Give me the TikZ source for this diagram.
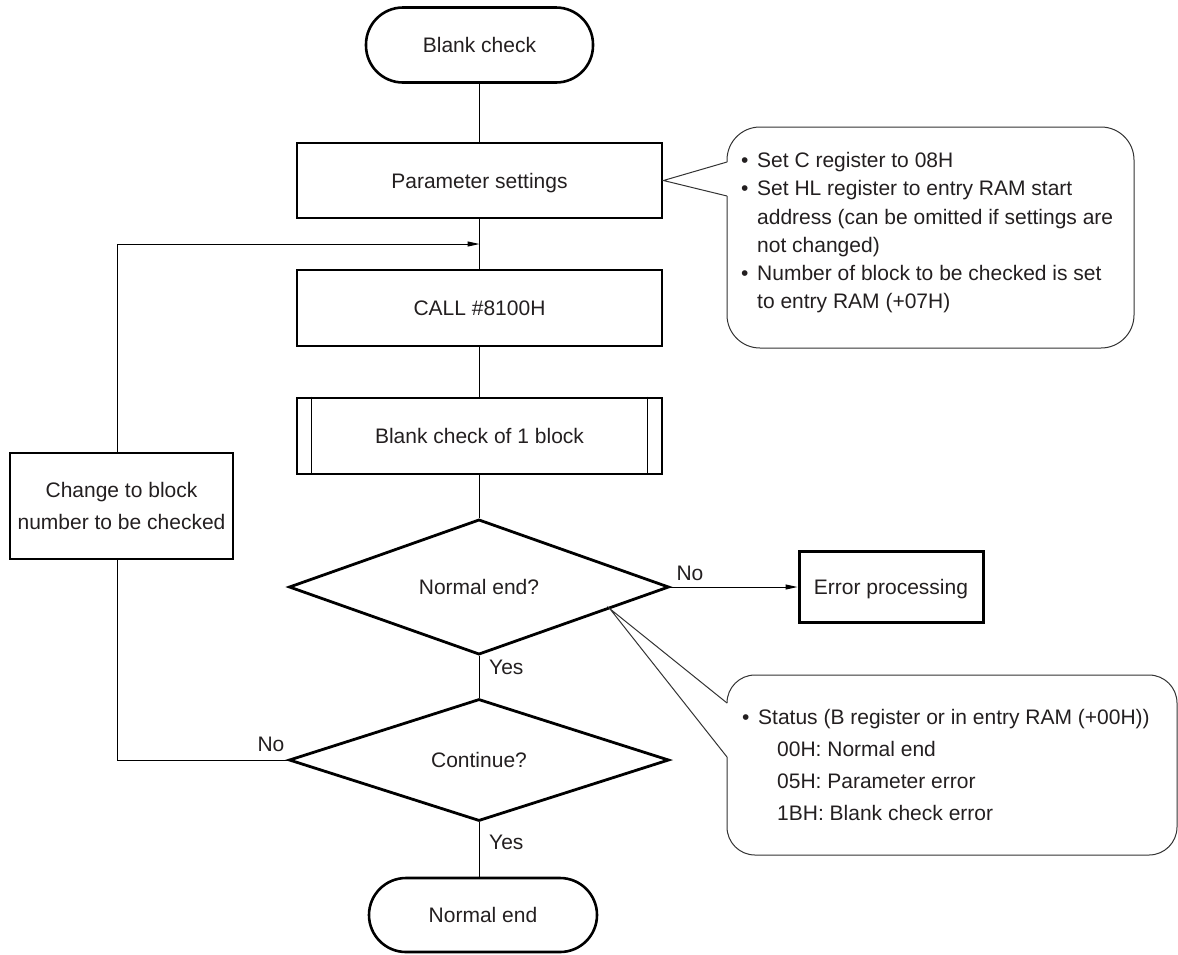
\documentclass[tikz,border=0pt]{standalone}
\usepackage{fontspec}
\setmainfont{Liberation Sans}
\usetikzlibrary{shapes.geometric,arrows.meta,calc}
\definecolor{ink}{RGB}{35,31,32}
\begin{document}
\begin{tikzpicture}[x=1pt,y=-1pt,
  every node/.style={font=\fontsize{21}{32}\selectfont, text=ink},
  oneline/.style={text height=15pt, text depth=0pt},
  box/.style={draw=black, line width=2.9pt, rectangle, minimum width=365pt,
    minimum height=76pt, inner sep=0pt},
  term/.style={draw=black, line width=2.6pt, rectangle, rounded corners=37pt,
    minimum width=227pt, minimum height=75pt, inner sep=0pt, oneline},
  decision/.style={draw=black, line width=2.8pt, diamond, minimum width=380pt,
    minimum height=121pt, inner sep=0pt, oneline},
  flow/.style={draw=black, line width=1pt},
  arr/.style={flow, -{Triangle[length=12pt,width=5pt]}},
  note/.style={draw=black!80, line width=1pt},
  lbl/.style={inner sep=0pt},
]
\useasboundingbox (0,0) rectangle (1178,954);

% main flow
\node[term] (start) at (479.5,45) {Blank check};
\node[box, oneline, minimum height=75pt] (param) at (479.5,180.5) {Parameter settings};
\node[box, oneline] (call) at (479.5,308) {CALL \#8100H};
\node[box, oneline] (sub) at (479.5,436) {Blank check of 1 block};
\draw[line width=1pt] ([xshift=16pt]sub.north west) -- ([xshift=16pt]sub.south west);
\draw[line width=1pt] ([xshift=-16pt]sub.north east) -- ([xshift=-16pt]sub.south east);
\node[decision] (dec1) at (479,587) {Normal end?};
\node[decision, minimum height=122pt] (dec2) at (479,760) {Continue?};
\node[term, minimum width=228pt, minimum height=74pt] (end) at (483,915) {Normal end};
\node[box, oneline, minimum width=184pt, minimum height=71pt, line width=3pt] (err) at (891,587) {Error processing};
\node[box, minimum width=223pt, minimum height=106pt, align=center] (chg) at (121.5,506) {Change to block\\number to be checked};

% connectors
\draw[flow] (start.south) -- (start.south |- param.north);
\draw[flow] (param) -- (call);
\draw[flow] (call) -- (sub);
\draw[flow] (sub.south) -- (sub.south |- dec1.north);
\draw[flow] (dec1) -- (dec2);
\draw[flow] (dec2.south) -- (dec2.south |- end.north);
\draw[arr] (dec1.east) -- (err.west);

% loop back to the call
\coordinate (merge) at (479.5,244);
\coordinate (fbtop) at (117,244);
\coordinate (fbbot) at (117,760);
\draw[flow] (dec2.west) -- (fbbot) -- (fbbot |- chg.south);
\draw[arr] (fbbot |- chg.north) -- (fbtop) -- (merge);

% branch labels
\node[lbl, anchor=west] (yes1) at (489,667) {Yes};
\node[lbl, anchor=west] (yes2) at (489,842) {Yes};
\node[lbl] (no1) at (690,573) {No};
\node[lbl] (no2) at (271,744) {No};

% note on the parameters
\draw[note, rounded corners=33pt] (727,196) -- (727,348) -- (1134,348) -- (1134,127) -- (727,127) -- (727,162);
\draw[note] (727,162) -- (param.east) -- (727,196);
\node[lbl, anchor=base west] (b1) at (741,167) {\textbullet};
\node[lbl, anchor=base west] (t1) at (757,167) {Set C register to 08H};
\node[lbl, anchor=base west] (b2) at (741,195.5) {\textbullet};
\node[lbl, anchor=base west] (t2) at (757,195.5) {Set HL register to entry RAM start};
\node[lbl, anchor=base west] (t3) at (757,224) {address (can be omitted if settings are};
\node[lbl, anchor=base west] (t4) at (757,252) {not changed)};
\node[lbl, anchor=base west] (b5) at (741,280) {\textbullet};
\node[lbl, anchor=base west] (t5) at (757,280) {Number of block to be checked is set};
\node[lbl, anchor=base west] (t6) at (757,308) {to entry RAM (+07H)};

% note on the status codes
\coordinate (tip2) at ($(dec1.east)!0.316!(dec1.south)$);
\draw[note, rounded corners=28pt] (727,757) -- (727,855) -- (1177,855) -- (1177,675) -- (727,675) -- (727,703);
\draw[note] (727,703) -- (tip2) -- (727,757);
\node[lbl, anchor=base west] (s0) at (742,724) {\textbullet};
\node[lbl, anchor=base west] (s1) at (758,724) {Status (B register or in entry RAM (+00H))};
\node[lbl, anchor=base west] (s2) at (777,756) {00H: Normal end};
\node[lbl, anchor=base west] (s3) at (777,788) {05H: Parameter error};
\node[lbl, anchor=base west] (s4) at (777,820) {1BH: Blank check error};
\end{tikzpicture}
\end{document}
